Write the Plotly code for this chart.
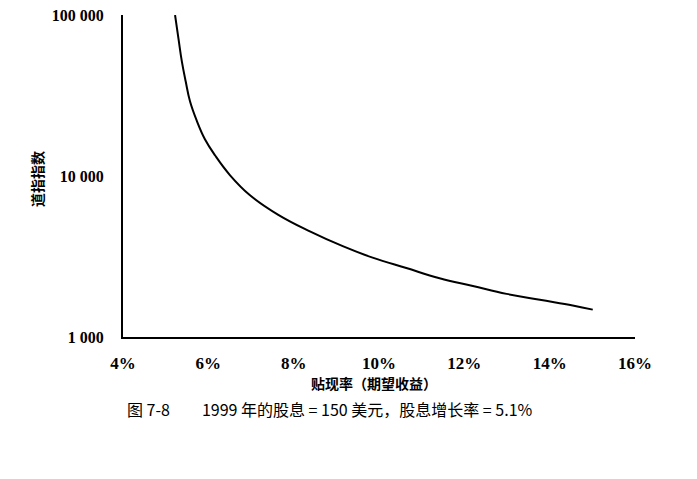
import plotly.graph_objects as go

# discount rate (%) and Dow index level
rates = [5.22, 5.30, 5.38, 5.47, 5.57, 5.73, 5.92, 6.16, 6.51, 6.97, 7.64,
         8.38, 9.15, 9.85, 10.64, 11.42, 12.20, 12.99, 13.77, 14.54, 15.01]
dow = [100000, 71300, 51300, 38600, 29100, 22000, 16900, 13400, 10100, 7620, 5740,
       4530, 3665, 3110, 2680, 2320, 2075, 1853, 1702, 1571, 1479]

x_ticks = [4, 6, 8, 10, 12, 14, 16]
x_labels = ["4%", "6%", "8%", "10%", "12%", "14%", "16%"]
y_ticks = [1000, 10000, 100000]
y_labels = ["1 000", "10 000", "100 000"]

serif = "Liberation Serif"
cjk = "Noto Sans CJK SC"

fig = go.Figure()
fig.add_trace(go.Scatter(x=rates, y=dow, mode="lines", line_shape="spline",
                         line=dict(color="black", width=2, smoothing=1.2),
                         showlegend=False))

# page body adds an 8px offset, so the figure is 8px smaller than the window
fig.update_layout(
    width=689, height=471,
    margin=dict(l=115, r=62, t=7, b=142, autoexpand=False),
    paper_bgcolor="white", plot_bgcolor="white",
    xaxis=dict(range=[4, 16], tickvals=x_ticks, ticktext=x_labels,
               showline=True, linecolor="black", linewidth=2,
               showgrid=False, zeroline=False, ticks="", automargin=False,
               ticklabelstandoff=10, ticklabeloverflow="allow",
               tickfont=dict(family=serif, size=17, color="black", weight="bold")),
    yaxis=dict(type="log", range=[3, 5], tickvals=y_ticks, ticktext=y_labels,
               showline=True, linecolor="black", linewidth=2,
               showgrid=False, zeroline=False, ticks="", automargin=False,
               ticklabelstandoff=14, ticklabeloverflow="allow",
               tickfont=dict(family=serif, size=16, color="black", weight="bold")),
    annotations=[
        dict(text="贴现率（期望收益）", xref="paper", yref="paper", x=0.49, y=-0.143,
             xanchor="center", yanchor="middle", showarrow=False,
             font=dict(family=cjk, size=14, color="black", weight="bold")),
        dict(text="道指指数", xref="paper", yref="paper", x=-0.168, y=0.491,
             xanchor="center", yanchor="middle", textangle=-90, showarrow=False,
             font=dict(family=cjk, size=14, color="black", weight="bold")),
        dict(text="图 7-8　　1999 年的股息 = 150 美元，股息增长率 = 5.1%",
             xref="paper", yref="paper", x=0.004, y=-0.224,
             xanchor="left", yanchor="middle", showarrow=False,
             font=dict(family=cjk, size=16, color="black")),
    ],
)

fig.write_html("out.html")
